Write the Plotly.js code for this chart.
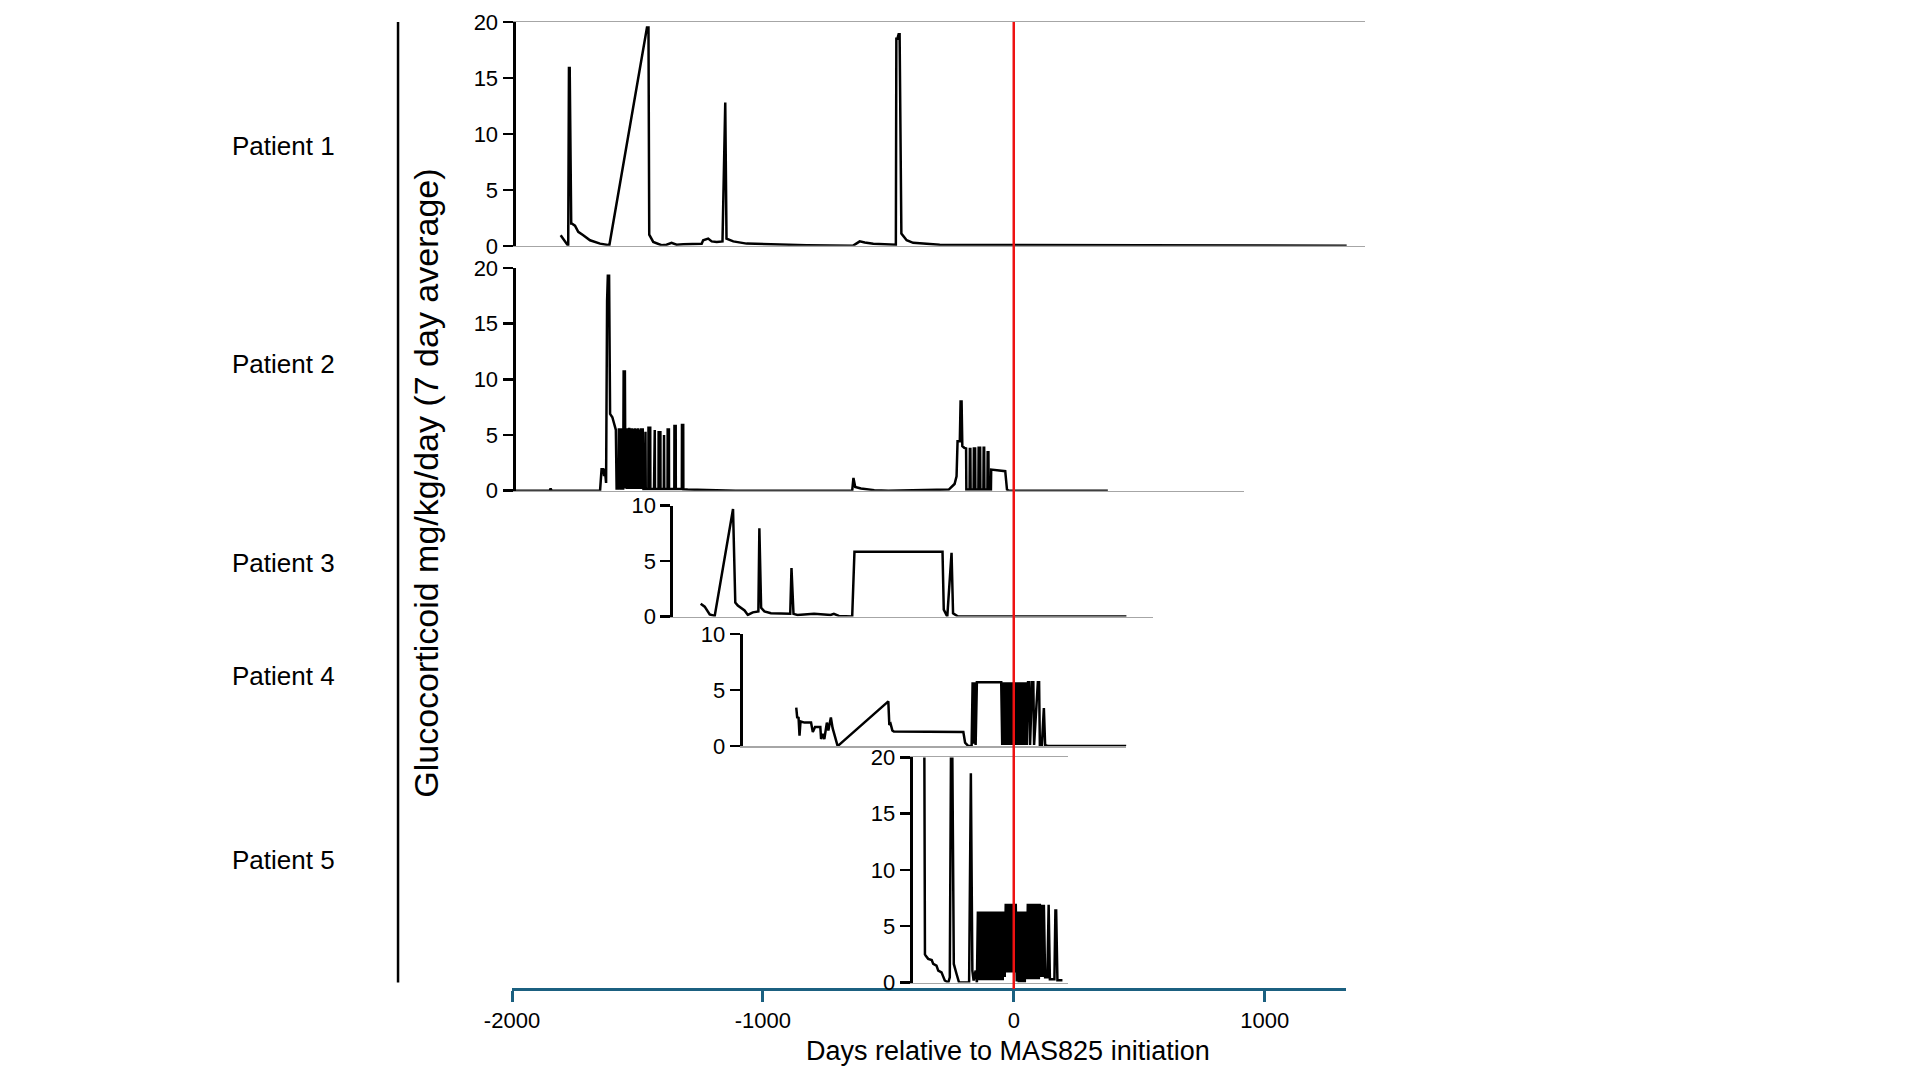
<!DOCTYPE html>
<html>
<head>
<meta charset="utf-8">
<script src="https://cdn.plot.ly/plotly-3.0.1.min.js"></script>
<style>html,body{margin:0;padding:0;background:#fff;}#chart{width:1920px;height:1080px;}</style>
</head>
<body>
<div id="chart"></div>
<script>
// ---------- data (days relative to MAS825 initiation, mg/kg/day 7-day average) ----------
const patientNames = ["Patient 1", "Patient 2", "Patient 3", "Patient 4", "Patient 5"];
const xTickVals = [-2000, -1000, 0, 1000];
const xTickText = ["-2000", "-1000", "0", "1000"];

const p1Days = [-1806,-1776,-1773,-1770,-1764,-1762,-1749,-1736,-1716,-1689,-1649,-1612,-1462,-1456,-1453,-1437,-1404,-1384,-1364,-1344,-1317,-1244,-1238,-1218,-1204,-1184,-1161,-1153,-1150,-1145,-1118,-1065,-959,-826,-640,-614,-594,-560,-470,-468,-464,-459,-455,-448,-427,-401,-361,-295,-200,0,300,700,1327];
const p1Vals = [0.95,0,15.9,15.9,2.0,2.0,1.8,1.25,0.95,0.5,0.2,0.05,19.5,19.5,1.0,0.35,0.06,0.1,0.27,0.1,0.15,0.18,0.5,0.65,0.4,0.35,0.4,12.8,12.8,0.65,0.4,0.2,0.12,0.06,0.02,0.4,0.3,0.18,0.1,18.5,18.5,18.9,18.9,1.1,0.5,0.27,0.2,0.1,0.08,0.08,0.05,0.03,0.02];

const p2Days = [-1986,-1850,-1846,-1842,-1649,-1643,-1636,-1633,-1630,-1625,-1621,-1618,-1613,-1609,-1600,-1594,-1586,-1583,-1575,-1574,-1566,-1565,-1557,-1555,-1550,-1548,
  -1545,-1542,-1539,-1536,-1533,-1530,-1527,-1524,-1521,-1518,-1515,-1512,-1509,-1506,-1503,-1500,-1497,-1494,-1491,-1488,-1485,-1482,-1479,-1476,
  -1469,-1468,-1467,-1456.5,-1456,-1449,-1448.5,-1434,-1433,-1431,-1430,-1416,-1415.5,-1408.5,-1408,-1395,-1394,-1393,-1380,-1379.5,-1374.5,-1374,-1353,-1352.5,-1347.5,-1347,-1323,-1322.5,-1317.5,-1317,
  -1300,-1200,-1109,-644,-639,-632,-609,-556,-500,
  -259,-246,-236,-228,-224,-215,-212,-208,-205,-197,-190,-189,-176,-175,-173,-172,-160,-159,-154,-153,-141,-140,-134,-133,-121,-120,-118,-117,-105,-104,-101,-100,-91,-90,-34,-27,-20,375];
const p2Vals = [0,0,0.2,0,0,1.93,1.93,1.3,1.93,0.7,17.0,19.3,19.3,6.9,6.6,6.0,5.45,0.2,0.2,5.5,5.5,0.2,0.2,10.7,10.7,0.2,
  5.6,0.15,5.6,0.15,5.65,0.15,5.6,0.15,5.6,0.15,5.55,0.15,5.6,0.15,5.55,0.15,5.6,0.15,5.5,0.15,5.6,0.15,5.6,0.15,
  0.15,5.3,0.15,0.15,5.65,5.65,0.15,0.15,5.45,5.45,0.15,0.15,5.24,5.24,0.15,0.15,5.0,0.15,0.15,5.5,5.5,0.15,0.15,5.8,5.8,0.15,0.15,5.9,5.9,0.12,
  0.1,0.05,0,0,1.15,0.33,0.2,0.05,0,
  0.1,0.4,0.6,1.3,4.45,4.45,8.0,8.0,4.0,3.85,3.8,0.1,0.1,3.75,3.75,0.1,0.1,3.8,3.8,0.1,0.1,3.85,3.85,0.1,0.1,3.85,3.85,0.1,0.1,3.45,3.45,0.1,0.1,1.9,1.75,0.1,0,0];

const p3Days = [-1248,-1232,-1212,-1192,-1119,-1110,-1100,-1086,-1073,-1060,-1040,-1018,-1014,-1007,-994,-968,-928,-891,-886,-878,-862,-796,-730,-717,-697,-644,-635,-284,-279,-265,-248,-242,-222,449];
const p3Vals = [1.17,0.9,0.2,0.06,9.7,1.27,1.0,0.8,0.55,0.15,0.38,0.47,7.97,0.8,0.47,0.3,0.25,0.25,4.37,0.25,0.15,0.25,0.15,0.25,0.06,0,5.85,5.85,0.63,0,5.76,0.3,0,0];

const p4Days = [-867,-863,-858,-854,-850,-834,-808,-801,-792,-771,-768,-762,-755,-745,-739,-729,-722,-702,-500,-496,-491,-484,-478,-201,-194,-181,-168,-164,-160,-156,-152,-147,-50,-46,-40,-36,-32,-28,-24,-20,-16,-12,-8,-4,0,4,8,12,16,20,24,28,32,36,40,44,48,52,57,62,65,73,78,81,96,101,104,112,120,125,136,449];
const p4Vals = [3.44,2.5,2.6,0.94,2.2,2.1,2.1,1.25,1.7,1.7,0.63,1.1,0.63,2.1,1.4,2.56,1.6,0,4.0,1.9,2.0,1.4,1.3,1.25,0.3,0,0,5.7,0.2,5.7,0.1,5.7,5.7,0.1,5.7,0.1,5.7,0.1,5.7,0.1,5.7,0.1,5.7,0.1,5.7,0.1,5.7,0.1,5.7,0.1,5.7,0.1,5.7,0.1,5.7,0.1,5.7,0.1,5.7,5.7,0.1,5.7,5.7,0.1,5.7,5.7,0.1,0.1,3.4,0.1,0,0];

const p5Days = [-357,-354,-350,-341,-327,-321,-308,-301,-288,-275,-261,-255,-248,-239,-228,-218,-178,-174,-171,-165,-160,-152,-147,-143,-140,-136,-132,-128,-124,-120,-116,-112,-108,-104,-100,-96,-92,-88,-84,-80,-76,-72,-68,-64,-60,-56,-52,-48,-44,-40,-36,-32,-28,-24,-20,-16,-12,-8,-4,0,4,8,12,16,20,24,28,32,36,40,44,48,52,56,60,64,68,72,76,80,84,88,92,96,100,104,108,112,116,120,125,134,136,139,144,148,162,166,169,174,194];
const p5Vals = [25,2.5,2.35,2.1,2.0,1.65,1.5,1.06,0.9,0.18,0,0.47,30,1.65,0.76,0,0,18.6,18.6,1.06,0.18,1.06,0,6.3,0.2,6.3,0.2,6.3,0.2,6.3,0.2,6.3,0.2,6.3,0.2,6.3,0.2,6.3,0.2,6.3,0.2,6.3,0.2,6.3,0.2,6.3,0.2,6.3,0.2,6.3,0.5,7.0,0.9,7.0,0.9,7.0,0.9,7.0,0.9,7.0,0.9,7.0,0.1,6.3,0.0,6.3,0.0,6.3,0.0,6.3,0.0,6.3,0.3,7.0,0.3,7.0,0.3,7.0,0.3,7.0,0.3,7.0,0.3,7.0,0.3,7.0,0.5,6.9,0.5,6.9,0.47,0.47,6.9,6.9,0.3,0.3,0.3,6.4,6.4,0.2,0.2];

// ---------- layout geometry ----------
const DAY0 = -2000, DAY1 = 1400, SPAN = DAY1 - DAY0;
const fx = d => (d - DAY0) / SPAN;
const panels = [
  {days: p1Days, vals: p1Vals, xs: -1986, xe: 1400, dom: [0.7685, 1.0], ymax: 20, mirror: true},
  {days: p2Days, vals: p2Vals, xs: -1986, xe: 917, dom: [0.5153, 0.7457], ymax: 20, mirror: false},
  {days: p3Days, vals: p3Vals, xs: -1357, xe: 555, dom: [0.3851, 0.4998], ymax: 10, mirror: false},
  {days: p4Days, vals: p4Vals, xs: -1081, xe: 449, dom: [0.2512, 0.3669], ymax: 10, mirror: false},
  {days: p5Days, vals: p5Vals, xs: -403, xe: 215, dom: [0.0067, 0.2395], ymax: 20, mirror: true}
];

const FONT = '"Liberation Sans", Arial, sans-serif';
const traces = [];
const layout = {
  width: 1920, height: 1080,
  margin: {l: 512, r: 1920 - 512 - 853.4, t: 22, b: 90.5, pad: 0},
  paper_bgcolor: '#ffffff', plot_bgcolor: 'rgba(0,0,0,0)',
  showlegend: false,
  font: {family: FONT, size: 22, color: '#000'},
  xaxis: {
    domain: [0, fx(1323)], range: [-2000, 1323], anchor: 'free', position: 0,
    showline: true, linecolor: '#1b6080', linewidth: 3,
    ticks: 'outside', ticklen: 11, tickwidth: 3, tickcolor: '#1b6080',
    tickvals: xTickVals, ticktext: xTickText, tickfont: {family: FONT, size: 22, color: '#000'},
    showgrid: false, zeroline: false
  },
  yaxis: {domain: [0, 1], range: [0, 1], visible: false, anchor: 'x'},
  shapes: [], annotations: []
};
traces.push({x: [-2000], y: [0.5], xaxis: 'x', yaxis: 'y', mode: 'markers', marker: {opacity: 0}, hoverinfo: 'skip'});

panels.forEach((p, i) => {
  const n = i + 2;
  layout['xaxis' + n] = {
    domain: [fx(p.xs), fx(p.xe)], range: [p.xs, p.xe], anchor: 'y' + n,
    showline: true, linecolor: '#a6a6a6', linewidth: 1.5, mirror: p.mirror,
    showticklabels: false, ticks: '', showgrid: false, zeroline: false
  };
  layout['yaxis' + n] = {
    domain: p.dom, range: [0, p.ymax], anchor: 'x' + n,
    showline: true, linecolor: '#000', linewidth: 3,
    ticks: 'outside', ticklen: 10, tickwidth: 2.5, tickcolor: '#000',
    dtick: 5, tick0: 0, tickfont: {family: FONT, size: 22, color: '#000'},
    showgrid: false, zeroline: false
  };
  traces.push({
    x: p.days, y: p.vals, xaxis: 'x' + n, yaxis: 'y' + n,
    mode: 'lines', line: {color: '#000', width: 2.5}, hoverinfo: 'skip'
  });
});

layout.shapes.push({type: 'line', xref: 'x', yref: 'paper', x0: 0, x1: 0, y0: 0, y1: 1,
  line: {color: '#ee1111', width: 2.5}, layer: 'above'});
layout.shapes.push({type: 'line', xref: 'paper', yref: 'paper', x0: -0.1336, x1: -0.1336, y0: 0.0067, y1: 1,
  line: {color: '#000', width: 2.5}});

const labelY = [0.8718, 0.6465, 0.4408, 0.3240, 0.1339];
patientNames.forEach((t, i) => {
  layout.annotations.push({text: t, xref: 'paper', yref: 'paper', x: -0.2683, y: labelY[i],
    xanchor: 'center', yanchor: 'middle', showarrow: false, font: {family: FONT, size: 26, color: '#000'}});
});
layout.annotations.push({text: 'Glucocorticoid mg/kg/day (7 day average)', xref: 'paper', yref: 'paper',
  x: -0.1008, y: 0.5225, xanchor: 'center', yanchor: 'middle', textangle: -90, showarrow: false,
  font: {family: FONT, size: 34, color: '#000'}});
layout.annotations.push({text: 'Days relative to MAS825 initiation', xref: 'paper', yref: 'paper',
  x: 0.5812, y: -0.0646, xanchor: 'center', yanchor: 'middle', showarrow: false,
  font: {family: FONT, size: 27, color: '#000'}});

Plotly.newPlot('chart', traces, layout, {staticPlot: true, displayModeBar: false});
</script>
</body>
</html>
